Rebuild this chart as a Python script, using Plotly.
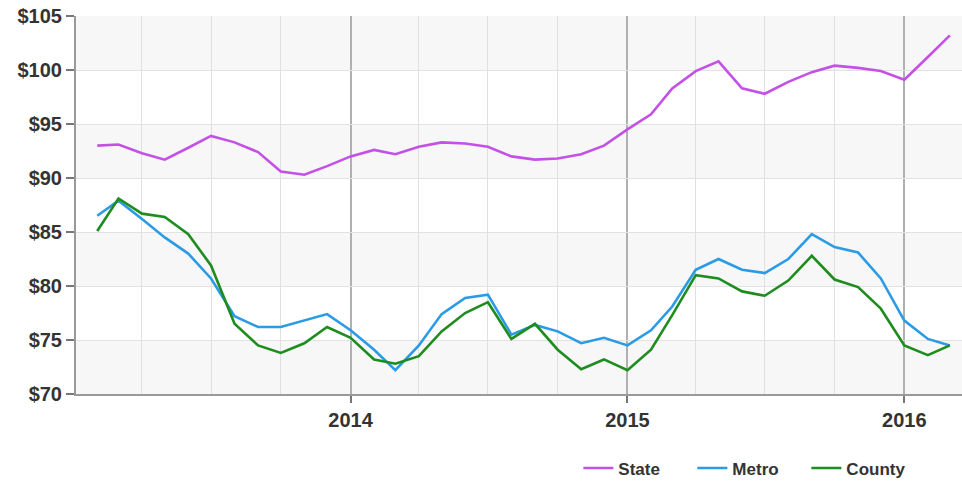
import plotly.graph_objects as go
import pandas as pd

months = pd.date_range("2013-02-01", "2016-03-01", freq="MS")

state = [93.0, 93.1, 92.3, 91.7, 92.8, 93.9, 93.3, 92.4, 90.6, 90.3, 91.1,
         92.0, 92.6, 92.2, 92.9, 93.3, 93.2, 92.9, 92.0, 91.7, 91.8, 92.2, 93.0,
         94.5, 95.9, 98.3, 99.9, 100.8, 98.3, 97.8, 98.9, 99.8, 100.4, 100.2, 99.9,
         99.1, 101.2, 103.2]
metro = [86.5, 87.9, 86.2, 84.5, 83.0, 80.7, 77.2, 76.2, 76.2, 76.8, 77.4,
         75.9, 74.1, 72.2, 74.5, 77.4, 78.9, 79.2, 75.5, 76.4, 75.8, 74.7, 75.2,
         74.5, 75.9, 78.1, 81.5, 82.5, 81.5, 81.2, 82.5, 84.8, 83.6, 83.1, 80.7,
         76.8, 75.1, 74.5]
county = [85.1, 88.1, 86.7, 86.4, 84.8, 81.9, 76.5, 74.5, 73.8, 74.7, 76.2,
          75.2, 73.2, 72.8, 73.5, 75.8, 77.5, 78.5, 75.1, 76.5, 74.1, 72.3, 73.2,
          72.2, 74.1, 77.3, 81.0, 80.7, 79.5, 79.1, 80.5, 82.8, 80.6, 79.9, 77.9,
          74.5, 73.6, 74.5]

series_names = ["State", "Metro", "County"]
series_values = [state, metro, county]
series_colors = ["#c451e6", "#2a9be4", "#1e8c1e"]

y_ticks = [70, 75, 80, 85, 90, 95, 100, 105]

fig = go.Figure()
for name, vals, col in zip(series_names, series_values, series_colors):
    fig.add_trace(go.Scatter(x=months, y=vals, name=name, mode="lines",
                             line=dict(color=col, width=2.6)))

# alternating horizontal bands
for i in range(len(y_ticks) - 1):
    if (len(y_ticks) - 2 - i) % 2 == 0:
        fig.add_shape(type="rect", xref="paper", yref="y", x0=0, x1=1,
                      y0=y_ticks[i], y1=y_ticks[i + 1],
                      fillcolor="#f7f7f7", line_width=0, layer="below")

FAM = "Liberation Sans, Arial, sans-serif"

fig.update_layout(
    width=962, height=487,
    margin=dict(l=76, r=0, t=16, b=91),
    plot_bgcolor="rgba(0,0,0,0)",
    paper_bgcolor="white",
    showlegend=True,
    legend=dict(orientation="h", x=0.567, xanchor="left", y=-0.197,
                yanchor="middle",
                font=dict(family=FAM, size=17, color="#333333", weight="bold"),
                itemwidth=30, entrywidth=69, traceorder="normal"),
    xaxis=dict(
        type="date",
        range=["2013-01-04", "2016-03-17"],
        dtick="M12", tick0="2013-01-01", tickformat="%Y",
        showgrid=True, gridcolor="#b0b0b0", gridwidth=1.5,
        ticks="outside", ticklen=7, tickcolor="#777777", tickwidth=2,
        showline=True, linecolor="#999999", linewidth=2,
        tickfont=dict(family=FAM, size=20, color="#333333", weight="bold"),
        minor=dict(dtick="M3", tick0="2013-01-01", showgrid=True,
                   gridcolor="#e0e0e0", gridwidth=1),
        zeroline=False,
    ),
    yaxis=dict(
        range=[70, 105], tickvals=y_ticks, ticktext=[f"${v}" for v in y_ticks],
        showgrid=True, gridcolor="#e2e2e2", gridwidth=1,
        ticks="outside", ticklen=8, tickcolor="#777777", tickwidth=2,
        showline=True, linecolor="#999999", linewidth=2,
        tickfont=dict(family=FAM, size=20, color="#333333", weight="bold"),
        zeroline=False,
    ),
)

fig.write_html("out.html",
               config={"displayModeBar": False},
               post_script="document.body.style.margin='0';document.body.style.overflow='hidden';")
